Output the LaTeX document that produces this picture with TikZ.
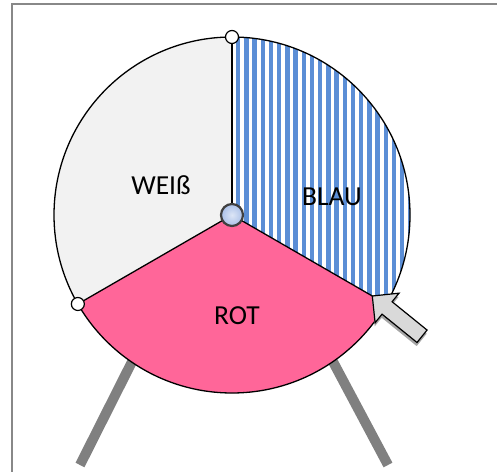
\documentclass[tikz,border=0pt]{standalone}
\usepackage{fontspec}
\setmainfont{Carlito}
\usepackage{tikz}
\usetikzlibrary{positioning, calc}

\definecolor{weiss}{RGB}{242,242,242}
\definecolor{rot}{RGB}{255,102,153}
\definecolor{blau}{RGB}{91,142,214}
\definecolor{knopf}{RGB}{170,192,232}
\definecolor{rahmen}{RGB}{136,136,136}

\tikzset{
  label/.style={font=\fontsize{27.5}{32}\selectfont, inner sep=0pt},
  punkt/.style={circle, draw=black, fill=white, line width=1.2pt, minimum size=13pt, inner sep=0pt},
  bein/.style={draw=gray, line width=10pt},
}

\begin{document}
\begin{tikzpicture}[x=1pt, y=1pt]
                \useasboundingbox (0,0) rectangle (497,471);
                \clip (0,0) rectangle (497,471);
                % frame
                \draw [rahmen, line width=1.5pt] (12,-10) rectangle (520,467);
                \coordinate (c) at (232,256);
                % legs
                \coordinate (lo) at (150,145);
                \coordinate (lu) at (80,6);
                \coordinate (ro) at (314,145);
                \coordinate (ru) at (388,6);
                \draw [bein] (lo) -- (lu);
                \draw [bein] (ro) -- (ru);
                % sectors
                \fill [weiss] (c) -- ++(90:178) arc (90:210:178) -- cycle;
                \fill [rot] (c) -- ++(210:178) arc (210:330:178) -- cycle;
                \begin{scope}
                    \clip (c) -- ++(-30:178) arc (-30:90:178) -- cycle;
                    \fill [white] (c) -- ++(-30:178) arc (-30:90:178) -- cycle;
                    \foreach \x in {236,244.2,...,412}
                        \fill [blau] (\x,60) rectangle (\x+4.4,440);
                \end{scope}
                \draw [line width=1.3pt] (c) circle (178);
                \draw [line width=1.3pt] (c) -- ++(90:178) coordinate (p1);
                \draw [line width=1.3pt] (c) -- ++(210:178) coordinate (p2);
                \draw [line width=1.3pt] (c) -- ++(-30:178) coordinate (p3);
                \coordinate (spitze) at ($(c)+(-30:162)$);
                % labels
                \node [label] (weiss) at (161,286) {WEIß};
                \node [label] (blau) at (332,274) {BLAU};
                \node [label] (rot) at (237,155) {ROT};
                % knob and points
                \node [circle, draw={rgb,255:red,64;green,64;blue,64}, line width=2.2pt,
                       inner color=white!60!knopf, outer color=knopf,
                       minimum size=22pt, inner sep=0pt] (knopf) at (c) {};
                \node [punkt] (oben) at (p1) {};
                \node [punkt] (links) at (p2) {};
                % pointer
                \begin{scope}[shift={(spitze)}, rotate=-39]
                    \fill [gray!70, shift={(2,-3)}] (0,0) -- (19,19) -- (19,8) -- (64,8)
                        -- (64,-8) -- (19,-8) -- (19,-19) -- cycle;
                    \draw [fill=gray!30, line width=1.2pt, line join=miter] (0,0) -- (19,19) -- (19,8) -- (64,8)
                        -- (64,-8) -- (19,-8) -- (19,-19) -- cycle;
                \end{scope}
            \end{tikzpicture}
\end{document}
